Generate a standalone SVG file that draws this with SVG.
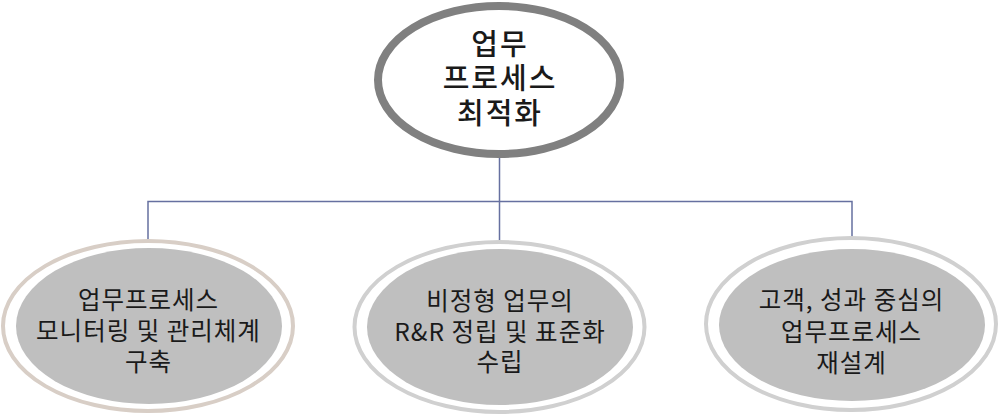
<svg xmlns="http://www.w3.org/2000/svg" width="1000" height="415" viewBox="0 0 1000 415">
<style>
.t{font-family:"Noto Sans CJK KR","Noto Sans",sans-serif;text-anchor:middle;fill:#1a1a1a}
.top{font-size:29px;font-weight:500;letter-spacing:2px}
.sub{font-size:24.5px;letter-spacing:1px}
.outer{fill:#ffffff;stroke-width:4}
.inner{fill:#bfbfbf}
.conn{fill:none;stroke:#6670a0;stroke-width:1.5}
</style>
<rect width="1000" height="415" fill="#ffffff"/>
<g id="connectors">
<path class="conn" d="M499.5 158 V201.5 M148 240 V201.5 H852 V240 M499.5 201.5 V240"/>
</g>
<g id="root">
<ellipse cx="499" cy="80" rx="121" ry="74" fill="#ffffff" stroke="#808080" stroke-width="8"/>
<text class="t top" x="500" y="55">업무</text>
<text class="t top" x="500" y="89">프로세스</text>
<text class="t top" x="500" y="124">최적화</text>
</g>
<g id="node1">
<ellipse class="outer" cx="148" cy="326" rx="145" ry="85" stroke="#d8cec6"/>
<ellipse class="inner" cx="149" cy="326" rx="133" ry="78"/>
<text class="t sub" x="148.5" y="309">업무프로세스</text>
<text class="t sub" x="148.5" y="340">모니터링 및 관리체계</text>
<text class="t sub" x="148.5" y="371">구축</text>
</g>
<g id="node2">
<ellipse class="outer" cx="499.5" cy="327" rx="145" ry="85" stroke="#d0d0d0"/>
<ellipse class="inner" cx="500" cy="327" rx="133" ry="78"/>
<text class="t sub" x="500" y="310">비정형 업무의</text>
<text class="t sub" x="500" y="341">R&amp;R 정립 및 표준화</text>
<text class="t sub" x="500" y="371">수립</text>
</g>
<g id="node3">
<ellipse class="outer" cx="851" cy="324" rx="145" ry="86" stroke="#d0d0d0"/>
<ellipse class="inner" cx="852" cy="325" rx="133" ry="76"/>
<text class="t sub" x="851.5" y="309">고객, 성과 중심의</text>
<text class="t sub" x="851.5" y="341">업무프로세스</text>
<text class="t sub" x="851.5" y="372">재설계</text>
</g>
</svg>
